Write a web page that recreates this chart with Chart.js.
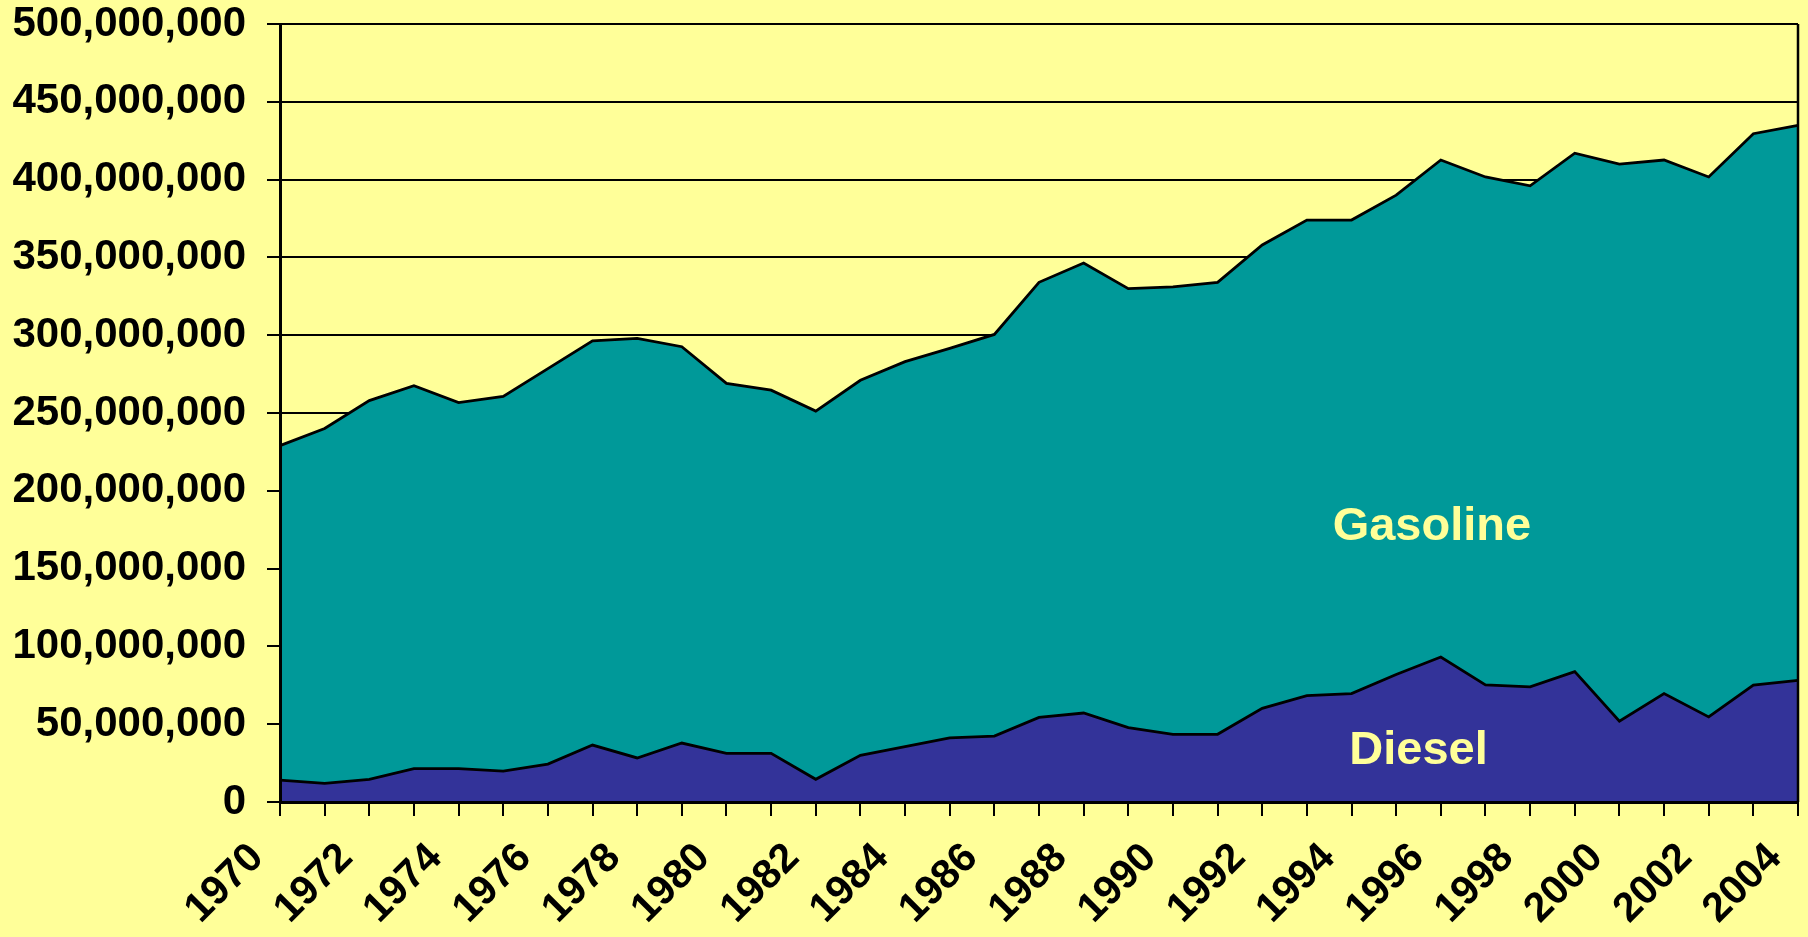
<!DOCTYPE html>
<html>
<head>
<meta charset="utf-8">
<script src="https://cdn.jsdelivr.net/npm/chart.js@4"></script>
<style>
  html, body { margin: 0; padding: 0; background: #FFFF99; }
  #wrap { width: 1808px; height: 937px; position: relative; }
</style>
</head>
<body>
<div id="wrap"><canvas id="c"></canvas></div>
<script>
// ---- data ----
const years = ['1970','1971','1972','1973','1974','1975','1976','1977','1978','1979',
               '1980','1981','1982','1983','1984','1985','1986','1987','1988','1989',
               '1990','1991','1992','1993','1994','1995','1996','1997','1998','1999',
               '2000','2001','2002','2003','2004'];

const diesel = [14100000, 12000000, 14600000, 21400000, 21400000, 19900000, 24400000, 36600000, 28300000, 37900000,
                31300000, 31300000, 14600000, 30000000, 35600000, 41200000, 42400000, 54400000, 57200000, 47800000,
                43500000, 43500000, 60200000, 68400000, 69700000, 81900000, 93200000, 75200000, 74000000, 83800000,
                51900000, 69700000, 54700000, 75200000, 78200000];

const gasoline = [214900000, 228000000, 243400000, 246100000, 235300000, 240700000, 254100000, 259800000, 269600000, 254700000,
                  237700000, 233400000, 236600000, 241000000, 247400000, 250300000, 258100000, 279600000, 289200000, 282100000,
                  287500000, 290500000, 297800000, 305600000, 304300000, 308100000, 319400000, 326500000, 322000000, 333200000,
                  358100000, 342900000, 347000000, 354300000, 356700000];

const yMin = 0, yMax = 500000000, yStep = 50000000;

// series name labels placed inside the areas (data-space anchors)
const seriesLabels = [
  { text: 'Gasoline', index: 25.8, value: 177000000 },
  { text: 'Diesel',   index: 25.5, value: 33000000 }
];

const FONT = '"Liberation Sans", Arial, Helvetica, sans-serif';

const areaLabelsPlugin = {
  id: 'areaLabels',
  afterDatasetsDraw(chart) {
    const { ctx, chartArea } = chart;
    const xs = chart.scales.x, ys = chart.scales.y;
    ctx.save();
    // right border of the plot area
    ctx.strokeStyle = '#000';
    ctx.lineWidth = 2.5;
    ctx.beginPath();
    ctx.moveTo(chartArea.right, chartArea.top);
    ctx.lineTo(chartArea.right, chartArea.bottom);
    ctx.stroke();
    // series labels
    ctx.fillStyle = '#FFFF99';
    ctx.font = 'bold 47px ' + FONT;
    ctx.textAlign = 'center';
    ctx.textBaseline = 'middle';
    const px0 = xs.getPixelForValue(0), px1 = xs.getPixelForValue(1);
    seriesLabels.forEach(l => {
      const x = px0 + (px1 - px0) * l.index;
      const y = ys.getPixelForValue(l.value);
      ctx.fillText(l.text, x, y);
    });
    ctx.restore();
  }
};

new Chart(document.getElementById('c'), {
  type: 'line',
  data: {
    labels: years,
    datasets: [
      {
        label: 'Diesel',
        data: diesel,
        backgroundColor: '#333399',
        borderColor: '#000',
        borderWidth: 2.8,
        fill: 'origin',
        pointRadius: 0,
        tension: 0
      },
      {
        label: 'Gasoline',
        data: gasoline,
        backgroundColor: '#009999',
        borderColor: '#000',
        borderWidth: 2.8,
        fill: '-1',
        pointRadius: 0,
        tension: 0
      }
    ]
  },
  options: {
    responsive: true,
    maintainAspectRatio: false,
    animation: false,
    events: [],
    layout: { padding: { top: 24, right: 10, left: 0, bottom: 0 } },
    plugins: {
      legend: { display: false },
      tooltip: { enabled: false },
      title: { display: false }
    },
    scales: {
      x: {
        type: 'category',
        offset: false,
        grid: {
          display: true,
          drawOnChartArea: false,
          drawTicks: true,
          tickLength: 14,
          color: '#000',
          lineWidth: 2
        },
        border: { display: true, color: '#000', width: 3, z: 1 },
        ticks: {
          autoSkip: false,
          maxRotation: 45,
          minRotation: 45,
          padding: 18,
          labelOffset: -23,
          color: '#000',
          font: { family: FONT, size: 41, weight: 'bold' },
          callback: function(v, i) { return i % 2 === 0 ? this.getLabelForValue(v) : ''; }
        },
        afterFit(scale) {
          scale.height = 135;
          scale.paddingLeft = 0;
          scale.paddingRight = 0;
        }
      },
      y: {
        stacked: true,
        min: yMin,
        max: yMax,
        grid: {
          display: true,
          drawOnChartArea: true,
          drawTicks: true,
          tickLength: 13,
          color: '#000',
          lineWidth: 2
        },
        border: { display: true, color: '#000', width: 3, z: 1 },
        ticks: {
          stepSize: yStep,
          padding: 21,
          color: '#000',
          font: { family: FONT, size: 42, weight: 'bold' },
          callback: v => Number(v).toLocaleString('en-US')
        },
        afterFit(scale) {
          scale.width = 280;
          scale.paddingTop = 0;
          scale.paddingBottom = 0;
        }
      }
    }
  },
  plugins: [areaLabelsPlugin, {
    id: 'bg',
    beforeDraw(chart) {
      const c = chart.ctx;
      c.save();
      c.fillStyle = '#FFFF99';
      c.fillRect(0, 0, chart.width, chart.height);
      c.restore();
    }
  }]
});
</script>
</body>
</html>
